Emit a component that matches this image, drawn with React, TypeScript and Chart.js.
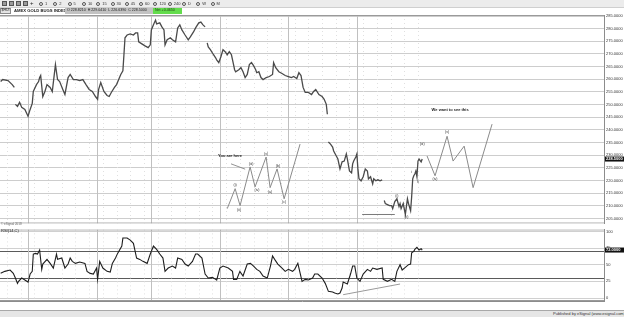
import React, { useEffect, useRef } from 'react';
import { Chart, registerables } from 'chart.js';

Chart.register(...registerables);

const FONT = '"Liberation Sans", Arial, sans-serif';

// ---------- categories / ticks ----------
const dateLabels = ['05/17','05/18','05/21','05/22','05/23','05/24','05/25','05/29','05/30','05/31','06/01','06/04','06/05','06/06','06/07','06/08','06/11','06/12','06/13','06/14','06/15','06/18','06/19','06/20','06/21','06/22','06/25','06/26','06/27','06/28','06/29'];
const weekStartDays = ['05/21','05/29','06/04','06/11','06/18','06/25'];
const priceTicks = [205,210,215,220,225,230,235,240,245,250,255,260,265,270,275,280,285];
const rsiTicks = [0,25,30,50,70,75,100];
const rsiBandLevels = [30,70];
const toolbarItems = ['1','2','5','10','15','30','45','60','120','240','D','W','M'];

// ---------- $HUI half-hour closes (bar index, close) ----------
const priceBars = [0,2,7,11,13,13.5,14,16,18,20,23,26,28,30,31,34,36,37,38,40,42,44,47,49,52,54,56,59,61,64,66,69,72,75,78,81,84,87,90,92,93,95,98,101,103,105,108,110,112,114,116,117,118,120,123,126,128,130,131,134,137,140,142,143,145,147,148,151,153,155,156,158,161,163,166,168,170,172,175,178,180,183,185,188,190,192,194,195,196,197,199,202,204,205,207,209,211,213,215,217,219,221,222,223,226,228,230,232,234,236,238,240,242,243,245,247,249,252,255,258,259,261,264,267,270,273,276,278,281,283,285,287,289,292,295,297,299,302,305,307,309,310,310.5,311,313,315,316,318,320,322,324,326,328,329,331,333,334,335,337,338,339,340,342,344,346,348,349,351,353,354,356,358,360,362,363,364,365,367,369,371,372,374,376,378,379,380,382,384,385,386,387,389,390,391,392,393,394,395,396,397,399,400];
const priceCloses = [259.1,259.9,259.5,257.9,256.8,null,250.1,249.3,250.9,248.9,248.1,245.4,248.1,250.5,255.2,257.9,259.1,260.7,261.5,253.2,255.2,257.9,256.8,255.2,265.8,259.9,259.1,256.0,254.0,260.7,261.9,259.9,259.9,259.5,259.9,257.9,256.0,255.2,253.2,252.1,256.0,258.7,255.2,253.6,253.2,254.8,256.8,257.9,259.9,261.9,263.4,269.7,276.4,277.5,277.9,277.5,278.3,278.3,274.8,274.0,273.2,272.5,273.6,279.5,281.5,283.4,281.9,282.3,280.7,279.5,273.6,275.6,276.4,275.6,274.8,280.3,281.5,279.5,277.5,275.6,276.8,278.7,280.3,282.3,282.6,281.5,280.7,null,274.4,272.8,271.7,269.7,268.5,267.7,266.6,268.9,271.7,270.9,269.7,270.9,269.7,265.8,263.8,263.0,263.8,264.6,263.0,260.7,261.9,265.8,266.6,265.4,263.8,262.6,263.0,260.7,259.9,260.7,261.1,261.9,266.6,264.6,263.0,262.3,261.5,261.1,260.7,261.1,260.3,262.6,261.5,256.8,254.8,254.8,254.0,255.2,256.0,254.0,253.2,252.1,250.1,246.2,null,235.2,234.4,233.2,231.7,230.1,228.5,224.6,227.4,227.7,230.5,228.5,223.8,223.0,226.6,227.7,229.3,230.5,224.6,220.7,219.9,221.5,224.6,223.8,220.7,221.5,218.7,220.7,219.9,220.3,219.9,220.3,null,212.1,210.9,210.5,210.1,210.1,208.9,211.7,212.8,209.7,210.9,208.9,210.9,206.6,209.7,212.8,210.9,208.1,213.6,220.7,221.9,222.6,223.8,221.5,227.7,228.5,227.4,228.5];

// ---------- RSI(14) ----------
const rsiBars = [0,4,9,12,14,16,17,20,23,26,28,30,31,33,35,36,37,39,40,44,47,50,53,54,58,61,64,66,68,71,75,80,82,85,88,91,92,94,97,101,104,106,109,111,115,116,120,123,126,129,132,135,139,142,145,148,151,154,156,159,163,166,168,172,175,178,182,185,187,191,194,197,201,204,205,208,211,216,220,221,224,227,230,234,237,240,243,246,249,253,256,258,260,263,267,270,273,277,279,282,286,289,292,296,298,301,305,308,311,315,317,320,322,324,325,329,332,334,336,338,341,344,348,351,353,357,362,363,367,371,374,376,379,381,384,387,389,390,392,393,395,397,399,400];
const rsiValues = [37,40,42,37,30,22,25,30,27,24,36,40,66,67,66,69,72,43,51,58,52,45,66,58,60,45,51,60,55,52,54,52,40,37,36,45,28,55,45,40,39,52,60,67,78,90,90,87,82,60,58,55,52,66,78,73,66,60,40,45,48,45,60,58,51,48,55,66,66,60,36,30,31,28,27,45,48,45,40,28,28,40,33,51,52,48,43,40,33,30,48,63,58,51,45,40,43,40,43,52,25,28,27,30,36,36,30,22,10,9,7.5,6,7.5,15,24,21,36,48,48,30,25,36,43,40,45,43,45,28,25,28,25,40,50,42,46,50,51,68,70,73,76,72,74,72];

// ---------- hand-drawn annotations ----------
const hereWaveBars = [215,222.5,227.2,236.7,241.4,251.9,255.7,262.3,269,284.1];
const hereWavePrices = [208.9,216.8,210.1,225.4,217.5,229.3,217.2,224.6,212.8,234.4];
const wantWaveBars = [404.6,412.2,423.6,429.3,439.8,448.3,466.3];
const wantWavePrices = [229.7,221.9,237.5,227.7,233.6,217.2,242.3];
const supportBars = [343,374];
const supportPrices = [206.6,206.6];
const pointerBars = [218.6,232];
const pointerPrices = [226.6,224.5];
const rsiTrendBars = [325,379];
const rsiTrendValues = [5,21];
const waveLabelTexts = ['(i)','(ii)','(iii)','(iv)','(v)','(a)','(b)','(c)','(iv)','(v)','(i)','(ii)','i','ii','(iii)'];
const waveLabelBars = [222.5,226.2,237.6,243.3,251.9,255.7,263.2,269,412.2,423.6,376,385,390,396,400];
const waveLabelPrices = [218.3,208.5,226.4,216.4,230.6,215.4,225.6,211.7,220.7,239.1,213.8,205.8,223.4,219.5,234.4];
const noteTexts = ['You are here','We want to see this'];
const noteBars = [217.7,426.5];
const notePrices = [229.7,248.1];

const BARS_PER_DAY = 13;
const X_MIN = -0.6;
const X_MAX = 572.5;

const pts = (xs: number[], ys: (number | null)[]) => xs.map((x, i) => ({ x, y: ys[i] }));

const gridPlugin = {
  id: 'dayGrid',
  beforeDatasetsDraw(chart: any) {
    const { ctx, chartArea, scales } = chart;
    const xs = scales.x;
    ctx.save();
    ctx.beginPath();
    ctx.rect(chartArea.left, chartArea.top, chartArea.width, chartArea.height);
    ctx.clip();
    ctx.lineWidth = 1;
    ctx.strokeStyle = '#e0e0e0';
    ctx.setLineDash([1, 3]);
    dateLabels.forEach((_, d) => {
      const px = Math.round(xs.getPixelForValue(d * BARS_PER_DAY + 6)) + 0.5;
      ctx.beginPath();
      ctx.moveTo(px, chartArea.top);
      ctx.lineTo(px, chartArea.bottom);
      ctx.stroke();
    });
    ctx.setLineDash([]);
    ctx.strokeStyle = '#c0c0c0';
    weekStartDays.forEach((lab) => {
      const d = dateLabels.indexOf(lab);
      const px = Math.round(xs.getPixelForValue(d * BARS_PER_DAY)) + 0.5;
      ctx.beginPath();
      ctx.moveTo(px, chartArea.top);
      ctx.lineTo(px, chartArea.bottom);
      ctx.stroke();
    });
    ctx.strokeStyle = '#9a9a9a';
    ctx.beginPath();
    ctx.moveTo(chartArea.left, chartArea.bottom - 0.5);
    ctx.lineTo(chartArea.right, chartArea.bottom - 0.5);
    ctx.moveTo(chartArea.left, chartArea.top + 0.5);
    ctx.lineTo(chartArea.right, chartArea.top + 0.5);
    ctx.stroke();
    ctx.restore();
  },
};

const priceTextPlugin = {
  id: 'priceText',
  afterDatasetsDraw(chart: any) {
    const { ctx, scales } = chart;
    const xs = scales.x;
    const ys = scales.y;
    ctx.save();
    ctx.textAlign = 'center';
    ctx.textBaseline = 'middle';
    ctx.fillStyle = '#333';
    ctx.font = `3.6px ${FONT}`;
    waveLabelTexts.forEach((t, i) => {
      ctx.fillText(t, xs.getPixelForValue(waveLabelBars[i]), ys.getPixelForValue(waveLabelPrices[i]));
    });
    ctx.font = `bold 4px ${FONT}`;
    ctx.fillStyle = '#222';
    noteTexts.forEach((t, i) => {
      ctx.fillText(t, xs.getPixelForValue(noteBars[i]), ys.getPixelForValue(notePrices[i]));
    });
    ctx.restore();
  },
};

const makeValueBox = (values: (number | null)[], digits: number) => ({
  id: 'valueBox',
  afterDraw(chart: any) {
    const { ctx, chartArea, scales } = chart;
    const last = [...values].reverse().find((v) => v !== null) as number;
    const py = scales.y.getPixelForValue(last);
    ctx.save();
    ctx.fillStyle = '#111';
    ctx.fillRect(chartArea.right + 1, py - 2.5, 19, 5);
    ctx.fillStyle = '#fff';
    ctx.font = `bold 4px ${FONT}`;
    ctx.textBaseline = 'middle';
    ctx.textAlign = 'left';
    ctx.fillText(last.toFixed(digits), chartArea.right + 2, py + 0.2);
    ctx.restore();
  },
});

export default function App() {
  const priceRef = useRef<HTMLCanvasElement>(null);
  const rsiRef = useRef<HTMLCanvasElement>(null);

  useEffect(() => {
    document.body.style.margin = '0';
    const priceChart = new Chart(priceRef.current as HTMLCanvasElement, {
      type: 'line',
      data: {
        datasets: [
          { data: pts(priceBars, priceCloses), borderColor: '#4a4a4a', borderWidth: 1.3, pointRadius: 0, spanGaps: false, tension: 0 },
          { data: pts(hereWaveBars, hereWavePrices), borderColor: '#8a8a8a', borderWidth: 1, pointRadius: 0, tension: 0 },
          { data: pts(wantWaveBars, wantWavePrices), borderColor: '#8a8a8a', borderWidth: 1, pointRadius: 0, tension: 0 },
          { data: pts(supportBars, supportPrices), borderColor: '#7a7a7a', borderWidth: 1, pointRadius: 0 },
          { data: pts(pointerBars, pointerPrices), borderColor: '#777', borderWidth: 0.8, pointRadius: 0 },
        ],
      },
      options: {
        responsive: false,
        animation: false,
        events: [],
        layout: { padding: { top: 5, bottom: 3, left: 0, right: 0 } },
        plugins: { legend: { display: false }, tooltip: { enabled: false } },
        scales: {
          x: { type: 'linear', display: false, min: X_MIN, max: X_MAX },
          y: {
            type: 'linear',
            position: 'right',
            min: 203.0,
            max: 285.4,
            afterBuildTicks: (s: any) => { s.ticks = priceTicks.map((v) => ({ value: v })); },
            afterFit: (s: any) => { s.width = 20; },
            ticks: { callback: (v: any) => Number(v).toFixed(4), font: { size: 4, family: FONT }, color: '#333', padding: 2 },
            grid: { color: '#cdcdcd', drawTicks: false },
            border: { color: '#8c8c8c' },
          },
        },
      } as any,
      plugins: [gridPlugin, priceTextPlugin, makeValueBox(priceCloses, 4)],
    });

    const rsiChart = new Chart(rsiRef.current as HTMLCanvasElement, {
      type: 'line',
      data: {
        datasets: [
          { data: pts(rsiBars, rsiValues), borderColor: '#1e1e1e', borderWidth: 1.1, pointRadius: 0, tension: 0 },
          { data: pts(rsiTrendBars, rsiTrendValues), borderColor: '#9a9a9a', borderWidth: 1, pointRadius: 0 },
        ],
      },
      options: {
        responsive: false,
        animation: false,
        events: [],
        layout: { padding: { top: 3, bottom: 0, left: 0, right: 0 } },
        plugins: { legend: { display: false }, tooltip: { enabled: false } },
        scales: {
          x: {
            type: 'linear',
            min: X_MIN,
            max: X_MAX,
            afterBuildTicks: (s: any) => { s.ticks = dateLabels.map((_, d) => ({ value: d * BARS_PER_DAY + 9 })); },
            afterFit: (s: any) => { s.height = 9; },
            ticks: { autoSkip: false, maxRotation: 0, minRotation: 0, padding: 1.5, font: { size: 4, family: FONT }, color: '#333', callback: (_v: any, i: number) => dateLabels[i] },
            grid: { display: false },
            border: { display: true, color: '#8c8c8c' },
          },
          y: {
            type: 'linear',
            position: 'right',
            min: -4.5,
            max: 103,
            afterBuildTicks: (s: any) => { s.ticks = rsiTicks.map((v) => ({ value: v })); },
            afterFit: (s: any) => { s.width = 20; },
            ticks: { callback: (v: any) => (rsiBandLevels.includes(Number(v)) ? '' : String(v)), font: { size: 4, family: FONT }, color: '#333', padding: 2 },
            grid: { color: (c: any) => (rsiBandLevels.includes(c.tick && c.tick.value) ? '#5a5a5a' : '#d0d0d0'), drawTicks: false },
            border: { color: '#8c8c8c' },
          },
        },
      } as any,
      plugins: [gridPlugin, makeValueBox(rsiValues, 4)],
    });

    return () => {
      priceChart.destroy();
      rsiChart.destroy();
    };
  }, []);

  const tiny = (size: number, extra: any = {}) => ({ position: 'absolute' as const, fontFamily: FONT, fontSize: size, lineHeight: 1, whiteSpace: 'nowrap' as const, color: '#333', ...extra });

  return (
    <div style={{ position: 'absolute', left: 0, top: 0, width: 624, height: 317, background: '#fff', overflow: 'hidden' }}>
      <canvas ref={priceRef} width={624} height={218} style={{ position: 'absolute', left: 0, top: 10, width: 624, height: 218 }} />
      <canvas ref={rsiRef} width={624} height={85} style={{ position: 'absolute', left: 0, top: 225, width: 624, height: 85 }} />

      {/* toolbar */}
      <div style={{ position: 'absolute', left: 0, top: 0, width: 624, height: 7, background: '#ececec', borderBottom: '1px solid #cfcfcf' }}>
        {[0, 1, 2, 3].map((i) => (
          <div key={i} style={{ position: 'absolute', left: 2 + i * 7, top: 1, width: 5, height: 5, boxSizing: 'border-box', background: '#9a9a9a', border: '1px solid #555' }} />
        ))}
        <div style={tiny(6, { left: 30, top: 0, color: '#222' })}>+</div>
        {toolbarItems.map((t, i) => (
          <div key={t} style={{ position: 'absolute', left: 39 + i * 14.3, top: 1.5, display: 'flex', alignItems: 'center', gap: 2 }}>
            <span style={{ width: 4, height: 4, borderRadius: '50%', border: '1px solid #555', boxSizing: 'border-box', display: 'inline-block' }} />
            <span style={{ fontFamily: FONT, fontSize: 4, lineHeight: 1, color: '#333' }}>{t}</span>
          </div>
        ))}
      </div>

      {/* title row */}
      <div style={{ position: 'absolute', left: 0, top: 8, width: 11, height: 6, boxSizing: 'border-box', border: '1px solid #8a8a8a', background: '#e4e4e4' }} />
      <div style={tiny(3.5, { left: 1.5, top: 9.3, color: '#222' })}>$HUI</div>
      <div style={tiny(4.2, { left: 14, top: 9, color: '#222', fontWeight: 'bold' })}>AMEX GOLD BUGS INDEX</div>
      <div style={{ position: 'absolute', left: 65, top: 8, width: 88, height: 6, background: '#c2c2c2' }} />
      <div style={tiny(3.6, { left: 67, top: 9.3, color: '#222' })}>O 228.8210&nbsp;&nbsp;H 229.0410&nbsp;&nbsp;L 226.6390&nbsp;&nbsp;C 228.5000</div>
      <div style={{ position: 'absolute', left: 153, top: 8, width: 29, height: 6, background: '#63dc4c' }} />
      <div style={tiny(3.6, { left: 155, top: 9.3, color: '#1a3a10' })}>Net +0.4650</div>

      {/* between panels */}
      <div style={tiny(3, { left: 1, top: 222.5, color: '#666' })}>© eSignal 2018</div>
      <div style={tiny(4, { left: 1, top: 229, color: '#222' })}>RSI(14,C)</div>

      {/* status bar */}
      <div style={{ position: 'absolute', left: 0, top: 310, width: 624, height: 7, background: '#e6e6e6', borderTop: '1px solid #a8a8a8' }} />
      <div style={tiny(4, { left: 553, top: 312, color: '#333' })}>Published by eSignal (www.esignal.com)</div>
    </div>
  );
}
